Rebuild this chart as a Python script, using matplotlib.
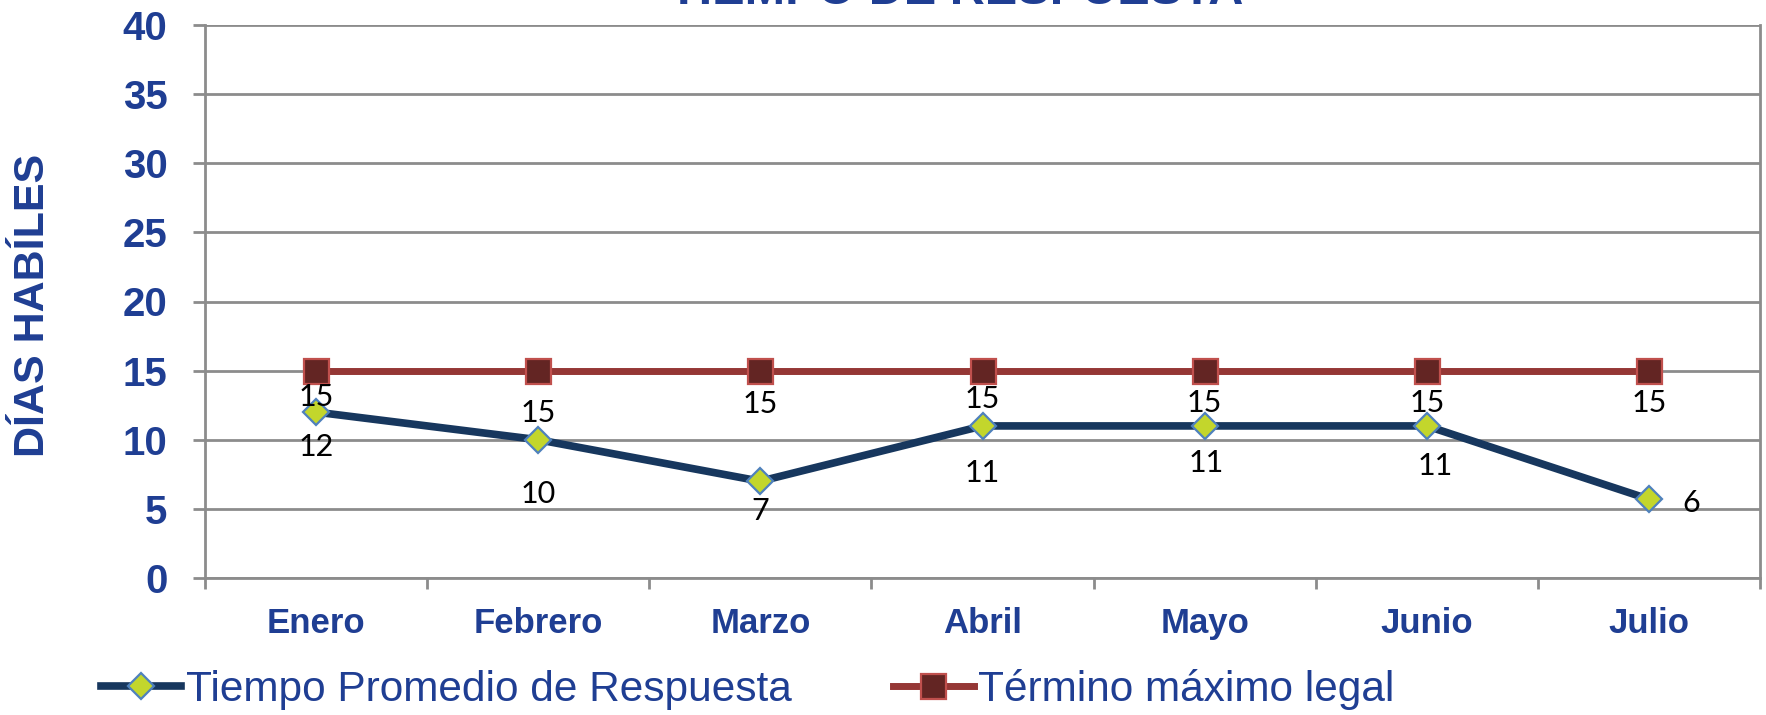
import matplotlib
matplotlib.use("Agg")
import matplotlib.pyplot as plt
import numpy as np

meses = ["Enero", "Febrero", "Marzo", "Abril", "Mayo", "Junio", "Julio"]
tiempo_promedio = [12, 10, 7, 11, 11, 11, 5.7]
termino_legal = [15, 15, 15, 15, 15, 15, 15]
y_ticks = [0, 5, 10, 15, 20, 25, 30, 35, 40]

azul = "#1F3E93"
x = np.arange(len(meses))

fig = plt.figure(figsize=(17.66, 7.15), dpi=100)
ax = fig.add_axes([205 / 1766, 1 - 578 / 715, 1555 / 1766, 553 / 715])

# grid lines every 5 days
ax.set_ylim(0, 40)
ax.set_xlim(-0.5, len(meses) - 0.5)
ax.set_yticks(y_ticks)
ax.yaxis.grid(True, color="#8C8C8C", linewidth=2)
ax.set_axisbelow(True)

ax.spines["top"].set_visible(False)
for s in ["left", "bottom", "right"]:
    ax.spines[s].set_color("#8C8C8C")
    ax.spines[s].set_linewidth(2)

l1, = ax.plot(x, tiempo_promedio, color="#17375E", linewidth=5.5, marker="D",
              markersize=13.5, markerfacecolor="#C3D62C", markeredgecolor="#4F81BD",
              markeredgewidth=1.6, label="Tiempo Promedio de Respuesta", zorder=3)
l2, = ax.plot(x, termino_legal, color="#953735", linewidth=5, marker="s",
              markersize=18, markerfacecolor="#632523", markeredgecolor="#C0504D",
              markeredgewidth=1.6, label="Término máximo legal", zorder=3)

# data labels (offsets in pixels)
off_tiempo = [(0, -35), (0, -54), (0, -30), (0, -47), (2, -37), (8, -40), (42, -4)]
off_termino = [(0, -26), (0, -42), (0, -33), (0, -28), (0, -32), (0, -32), (0, -32)]
for i in range(len(meses)):
    ax.annotate(f"{tiempo_promedio[i]:.0f}", (x[i], tiempo_promedio[i]),
                xytext=off_tiempo[i], textcoords="offset pixels",
                ha="center", va="center", fontsize=22, family="Lato", color="black", zorder=4)
    ax.annotate(f"{termino_legal[i]:.0f}", (x[i], termino_legal[i]),
                xytext=off_termino[i], textcoords="offset pixels",
                ha="center", va="center", fontsize=22, family="Lato", color="black", zorder=4)

# x ticks at category boundaries, labels at centres
ax.set_xticks(x)
ax.set_xticklabels(meses)
ax.set_xticks(np.arange(-0.5, len(meses)), minor=True)
ax.tick_params(axis="x", which="major", length=0, pad=21)
ax.tick_params(axis="x", which="minor", length=8, width=2, color="#8C8C8C", direction="out")
ax.tick_params(axis="y", length=9, width=2, color="#8C8C8C", pad=18)
for t in ax.get_xticklabels():
    t.set_fontsize(25)
    t.set_fontweight("bold")
    t.set_color(azul)
    t.set_family("Liberation Sans")
for t in ax.get_yticklabels():
    t.set_fontsize(29)
    t.set_fontweight("bold")
    t.set_color(azul)
    t.set_family("Liberation Sans")

fig.text(33 / 1766, 1 - 305 / 715, "DÍAS HABÍLES", rotation=90, ha="center", va="center",
         fontsize=31, fontweight="bold", color=azul, family="Liberation Sans")

fig.text(956 / 1766, 1 - 4 / 715, "TIEMPO DE RESPUESTA", ha="center", va="baseline",
         fontsize=35, fontweight="bold", color=azul, family="Liberation Sans")

fig.legend(handles=[l1, l2], loc="center left", bbox_to_anchor=(101 / 1766, 1 - 689 / 715),
           ncol=2, frameon=False, borderpad=0, borderaxespad=0, handlelength=1.9,
           handletextpad=0.1, columnspacing=2.4, labelcolor=azul,
           prop={"family": "Liberation Sans", "size": 30.5})

fig.savefig("out.png", dpi=100)
